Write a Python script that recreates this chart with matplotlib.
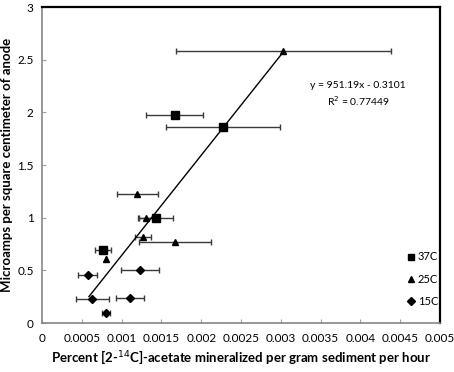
import matplotlib.pyplot as plt

plt.rcParams["font.family"] = ["Lato", "DejaVu Sans"]

# ── Data ───────────────────────────────────────────────────────────────────
x_37c = [0.001667, 0.002274, 0.001432, 0.000762]
y_37c = [1.975, 1.861, 1.000, 0.693]
xerr_37c = [0.00036, 0.00071, 0.00021, 0.00010]

x_25c = [0.003031, 0.001198, 0.001302, 0.001269, 0.001667, 0.000800]
y_25c = [2.586, 1.222, 1.000, 0.814, 0.766, 0.611]
xerr_25c = [0.00135, 0.00026, 0.00010, 0.00010, 0.00045, 0.0]

x_15c = [0.000574, 0.001235, 0.000632, 0.001106, 0.000800]
y_15c = [0.459, 0.500, 0.231, 0.234, 0.092]
xerr_15c = [0.00012, 0.00024, 0.00021, 0.00018, 0.00005]

slope, intercept, r2 = 951.19, -0.3101, 0.77449
fit_x = [0.00059, 0.003031]

x_ticks = [0, 0.0005, 0.001, 0.0015, 0.002, 0.0025, 0.003, 0.0035, 0.004, 0.0045, 0.005]
y_ticks = [0, 0.5, 1, 1.5, 2, 2.5, 3]

fig = plt.figure(figsize=(4.54, 3.72), dpi=100)
ax = fig.add_axes([42 / 454, 1 - 323 / 372, 398 / 454, 316 / 372])

err_kw = dict(ls="none", ecolor="#3a3a3a", elinewidth=1.0, capsize=2, capthick=1.0)
e37 = ax.errorbar(x_37c, y_37c, xerr=xerr_37c, marker="s", ms=6, color="black", **err_kw)
e25 = ax.errorbar(x_25c, y_25c, xerr=xerr_25c, marker="^", ms=5, color="black", **err_kw)
e15 = ax.errorbar(x_15c, y_15c, xerr=xerr_15c, marker="D", ms=4.5, color="black", **err_kw)

ax.plot(fit_x, [slope * v + intercept for v in fit_x], color="black", lw=1.0)
ax.text(0.00397, 2.17, f"y = {slope}x - {abs(intercept):.4f}\nR$^2$ = {r2}",
        fontsize=7.5, ha="center", va="center", linespacing=1.3)

ax.set_xlim(0, 0.005)
ax.set_ylim(0, 3)
ax.set_xticks(x_ticks)
ax.set_xticklabels([f"{t:g}" if t else "0" for t in x_ticks])
ax.set_yticks(y_ticks)
ax.set_yticklabels([f"{t:g}" for t in y_ticks])
ax.tick_params(direction="in", length=3, color="#a0a0a0", labelsize=8.5)
ax.tick_params(axis="x", pad=7)
ax.tick_params(axis="y", pad=6)

for side in ("left", "bottom"):
    ax.spines[side].set_color("#868686")
    ax.spines[side].set_linewidth(1.2)
for side in ("top", "right"):
    ax.spines[side].set_color("black")
    ax.spines[side].set_linewidth(1.6)

ax.set_xlabel("Percent [2-$^{14}$C]-acetate mineralized per gram sediment per hour",
              fontsize=9.5, fontweight="bold")
ax.set_ylabel("Microamps per square centimeter of anode",
              fontsize=9.5, fontweight="bold")
ax.xaxis.set_label_coords(0.5, (323 - 348) / 316)
ax.yaxis.set_label_coords((13 - 42) / 398, 0.5)

ax.legend([e37[0], e25[0], e15[0]], ["37C", "25C", "15C"], loc="lower right",
          bbox_to_anchor=(1.02, 0.02), frameon=False, fontsize=8,
          markerscale=0.8, handlelength=0.6, handletextpad=0.3, labelspacing=1.0)

fig.savefig("out.png", dpi=100)
